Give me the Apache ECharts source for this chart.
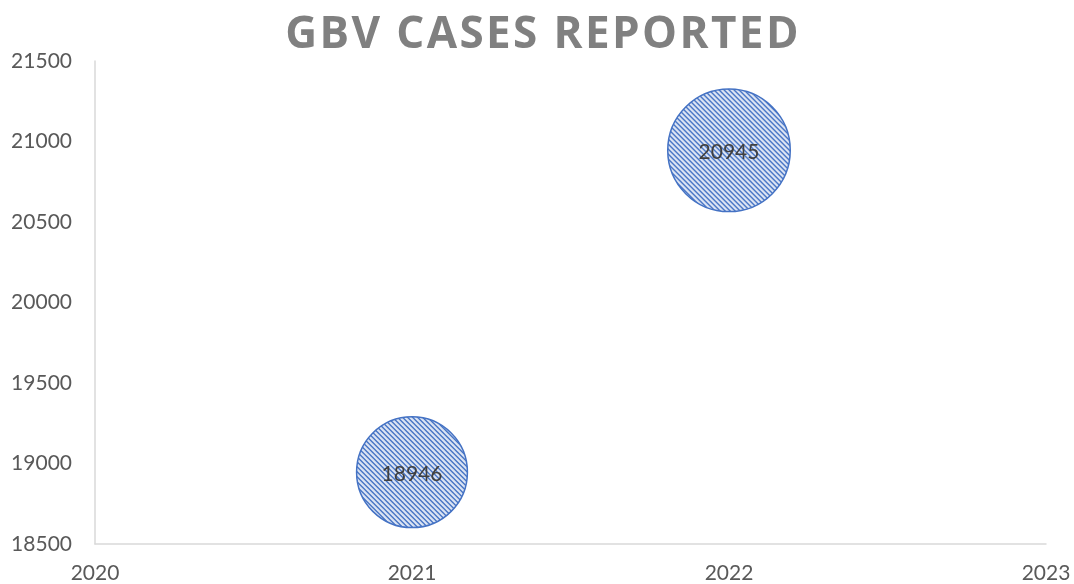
<!DOCTYPE html>
<html>
<head>
<meta charset="utf-8">
<script src="https://cdn.jsdelivr.net/npm/echarts@6/dist/echarts.min.js"></script>
<style>
  html, body { margin: 0; padding: 0; background: #fff; }
  #chart { width: 1074px; height: 584px; }
</style>
</head>
<body>
<div id="chart"></div>
<script>
// chart data
const titleText = 'GBV CASES REPORTED'
const years = [2021, 2022]
const cases = [18946, 20945]
const xTicks = [2020, 2021, 2022, 2023]
const yTicks = [18500, 19000, 19500, 20000, 20500, 21000, 21500]

// bubble diameter follows the value (excel bubble sizes)
const bubbleScale = 0.00585

// hatch fill like the excel "wide downward diagonal" pattern
function makeHatch() {
  const p = 5
  const cv = document.createElement('canvas')
  cv.width = p
  cv.height = p
  const ctx = cv.getContext('2d')
  ctx.fillStyle = '#dae3f3'
  ctx.fillRect(0, 0, p, p)
  ctx.fillStyle = '#4a77c6'
  for (let y = 0; y < p; y++) {
    for (let k = 0; k < 2; k++) {
      ctx.fillRect((y + k) % p, y, 1, 1)
    }
  }
  return cv
}
const hatch = makeHatch()

const myChart = echarts.init(document.getElementById('chart'))
const labelFont = 'Lato, "Open Sans", sans-serif'

// symbol paths are drawn at unit size and scaled, so undo that on the pattern
const bubbleData = years.map((y, i) => {
  const size = cases[i] * bubbleScale
  return {
    value: [y, cases[i]],
    itemStyle: {
      color: {
        image: hatch,
        repeat: 'repeat',
        scaleX: 2 / size,
        scaleY: 2 / size
      }
    }
  }
})

// letter spaced title, one rich fragment per character
const spacedTitle = titleText.split('').map((c) => '{s|' + c + '}').join('')

const options = {
  backgroundColor: '#fff',
  animation: false,
  title: {
    text: spacedTitle,
    left: 279,
    top: 8,
    textStyle: {
      fontFamily: '"Open Sans", sans-serif',
      fontWeight: 'bold',
      fontSize: 44,
      color: '#808080',
      rich: {
        s: {
          fontFamily: '"Open Sans", sans-serif',
          fontWeight: 'bold',
          fontSize: 44,
          color: '#808080',
          padding: [0, 1.2, 0, 1.2]
        }
      }
    }
  },
  grid: {
    left: 95,
    right: 28,
    top: 61,
    bottom: 40,
    outerBoundsMode: 'none'
  },
  xAxis: {
    type: 'value',
    min: xTicks[0],
    max: xTicks[xTicks.length - 1],
    interval: 1,
    splitLine: { show: false },
    axisTick: { show: false },
    axisLine: { show: true, lineStyle: { color: '#d9d9d9', width: 1.5 } },
    axisLabel: {
      color: '#595959',
      fontFamily: labelFont,
      fontSize: 21,
      margin: 19,
      formatter: (v) => String(v)
    }
  },
  yAxis: {
    type: 'value',
    min: yTicks[0],
    max: yTicks[yTicks.length - 1],
    interval: 500,
    splitLine: { show: false },
    axisTick: { show: false },
    axisLine: { show: true, lineStyle: { color: '#d9d9d9', width: 1.5 } },
    axisLabel: {
      color: '#595959',
      fontFamily: labelFont,
      fontSize: 21,
      margin: 23,
      formatter: (v) => String(v)
    }
  },
  series: [
    {
      type: 'scatter',
      data: bubbleData,
      symbolSize: (v) => v[1] * bubbleScale,
      itemStyle: {
        borderColor: '#4472c4',
        borderWidth: 1.5,
        opacity: 1
      },
      label: {
        show: true,
        position: 'inside',
        offset: [0, 2],
        formatter: (p) => String(p.value[1]),
        color: '#404040',
        fontFamily: labelFont,
        fontSize: 21
      }
    }
  ]
}
myChart.setOption(options)
</script>
</body>
</html>
